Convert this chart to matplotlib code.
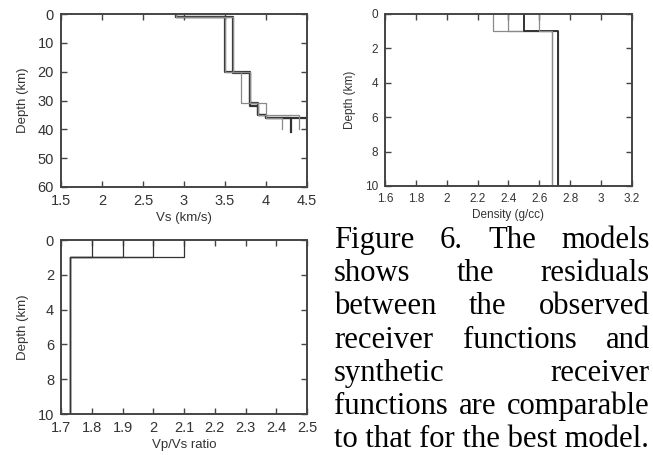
import matplotlib
matplotlib.use("Agg")
import matplotlib.pyplot as plt

# Vs models: layer velocities (km/s) and layer boundaries (km)
vs_models = [
    [2.9, 3.5, 3.8, 3.9, 4.0, 4.5],
    [2.9, 3.6, 3.8, 3.9, 4.0, 4.3],
    [2.9, 3.5, 3.7, 3.9, 4.0, 4.2],
    [2.9, 3.6, 3.8, 4.0, 4.4],
]
vs_depths = [
    [0, 1, 20, 32, 35, 36, 40],
    [0, 1, 20.5, 31, 35, 36, 41],
    [0, 1, 20, 31, 35, 36, 40],
    [0, 1, 20, 31, 35, 40],
]
vs_dark = [True, True, False, False]

# density models (g/cc)
rho_models = [[2.3, 2.72], [2.4, 2.68], [2.5, 2.72], [2.6, 2.68]]
rho_depths = [0, 1, 10]
rho_dark = [False, False, True, False]

# Vp/Vs models
vpvs_models = [[1.8, 1.73], [1.9, 1.73], [2.0, 1.73], [2.1, 1.73]]
vpvs_depths = [0, 1, 10]

caption = [
    "Figure 6. The models",
    "shows the residuals",
    "between the observed",
    "receiver functions and",
    "synthetic receiver",
    "functions are comparable",
]
caption_last = "to that for the best model."

W, H = 653, 455
fig = plt.figure(figsize=(W / 100, H / 100), dpi=100)
plt.rcParams['font.family'] = ['Liberation Sans', 'DejaVu Sans']

frame_col = '#444444'
dark_col = '#333333'
light_col = '#8a8a8a'


def step(vals, zs):
    xs, ys = [], []
    for i, v in enumerate(vals):
        xs += [v, v]
        ys += [zs[i], zs[i + 1]]
    return xs, ys


def setup(ax, xlim, ylim, xticks, yticks, xlabel, fs, lfs):
    ax.set_xlim(*xlim)
    ax.set_ylim(ylim[1], ylim[0])
    ax.set_xticks(xticks)
    ax.set_yticks(yticks)
    ax.set_xticklabels([f'{t:g}' for t in xticks])
    ax.set_yticklabels([f'{t:g}' for t in yticks])
    ax.tick_params(direction='in', top=True, right=True, length=4,
                   width=1.0, color=frame_col, labelsize=fs,
                   labelcolor='#333333', pad=5)
    for s in ax.spines.values():
        s.set_color(frame_col)
        s.set_linewidth(1.4)
    ax.set_xlabel(xlabel, fontsize=lfs, color='#333333', labelpad=3)
    ax.set_ylabel('Depth (km)', fontsize=lfs, color='#333333', labelpad=6)


# Vs panel
ax1 = fig.add_axes([61 / W, 1 - 187 / H, 246 / W, 173 / H])
for vals, zs, dk in zip(vs_models, vs_depths, vs_dark):
    xs, ys = step(vals, zs)
    ax1.plot(xs, ys, color=dark_col if dk else light_col,
             lw=1.6 if dk else 0.9)
setup(ax1, (1.5, 4.5), (0, 60), [1.5, 2, 2.5, 3, 3.5, 4, 4.5],
      [0, 10, 20, 30, 40, 50, 60], 'Vs (km/s)', 10.5, 9.5)

# density panel
ax2 = fig.add_axes([385 / W, 1 - 186 / H, 247 / W, 172 / H])
for vals, dk in zip(rho_models, rho_dark):
    xs, ys = step(vals, rho_depths)
    ax2.plot(xs, ys, color=dark_col if dk else light_col,
             lw=1.4 if dk else 0.9)
setup(ax2, (1.6, 3.2), (0, 10), [1.6, 1.8, 2, 2.2, 2.4, 2.6, 2.8, 3, 3.2],
      [0, 2, 4, 6, 8, 10], 'Density (g/cc)', 8.5, 8.5)

# Vp/Vs panel
ax3 = fig.add_axes([61 / W, 1 - 414 / H, 246 / W, 174 / H])
for vals in vpvs_models:
    xs, ys = step(vals, vpvs_depths)
    ax3.plot(xs, ys, color=dark_col, lw=0.9)
setup(ax3, (1.7, 2.5), (0, 10), [1.7, 1.8, 1.9, 2, 2.1, 2.2, 2.3, 2.4, 2.5],
      [0, 2, 4, 6, 8, 10], 'Vp/Vs ratio', 10.5, 9.5)

# justified caption
x0, x1 = 334, 650
renderer = fig.canvas.get_renderer()
probe = fig.text(0, 0, caption_last, family='Liberation Serif', fontsize=20)
natural = probe.get_window_extent(renderer).width
probe.remove()
fsz = 20 * (x1 - 2 - x0) / natural

base0, lead = 248, 33.2
for i, line in enumerate(caption):
    words = line.split()
    y = 1 - (base0 + lead * i) / H
    widths = []
    for w in words:
        t = fig.text(0, 0, w, family='Liberation Serif', fontsize=fsz)
        widths.append(t.get_window_extent(renderer).width)
        t.remove()
    gap = (x1 - x0 - sum(widths)) / (len(words) - 1)
    x = x0
    for w, wd in zip(words, widths):
        fig.text(x / W, y, w, family='Liberation Serif', fontsize=fsz,
                 va='baseline', ha='left', color='black')
        x += wd + gap
fig.text(x0 / W, 1 - (base0 + lead * len(caption)) / H, caption_last,
         family='Liberation Serif', fontsize=fsz, va='baseline', ha='left',
         color='black')

fig.savefig('out.png', dpi=100)
